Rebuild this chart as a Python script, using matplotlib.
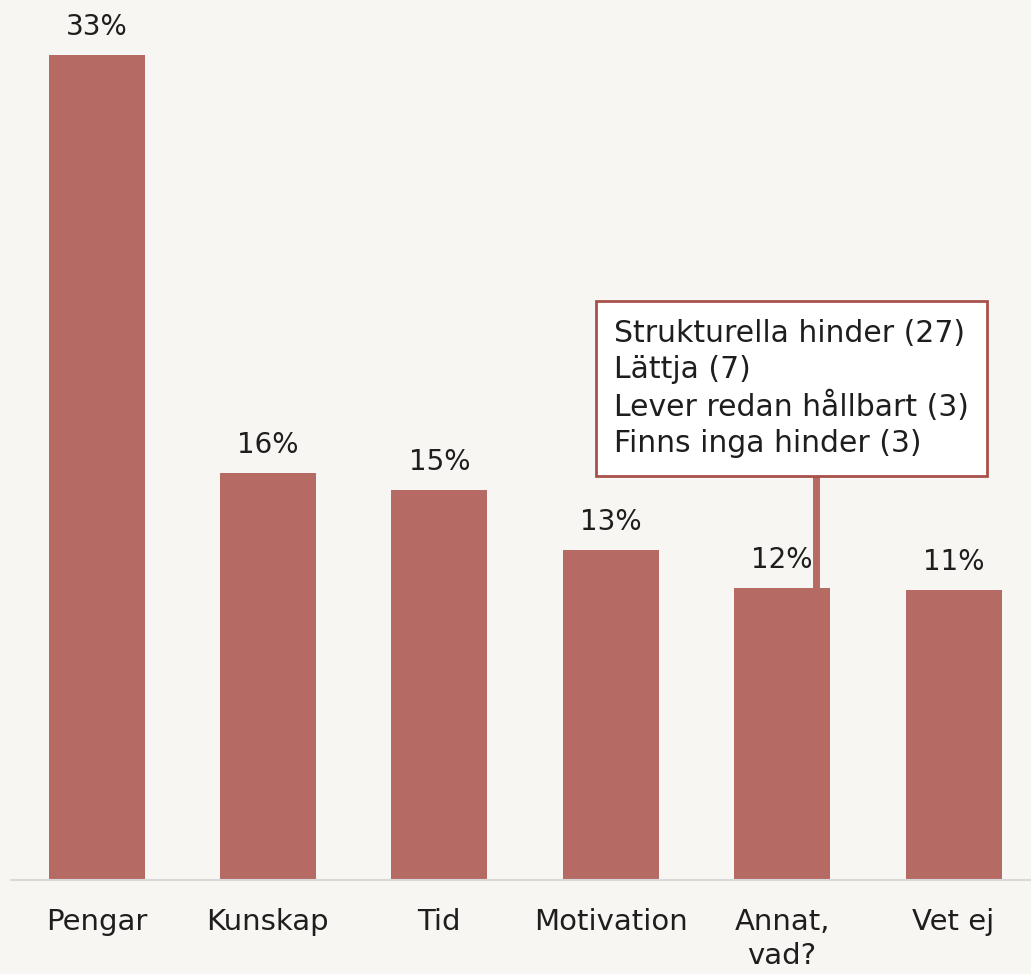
import numpy as np
import matplotlib.pyplot as plt

categories = ['Pengar', 'Kunskap', 'Tid', 'Motivation', 'Annat,\nvad?', 'Vet ej']
values = [33.0, 16.3, 15.6, 13.2, 11.7, 11.6]
labels = ['33%', '16%', '15%', '13%', '12%', '11%']
other_lines = ['Strukturella hinder (27)', 'Lättja (7)',
               'Lever redan hållbart (3)', 'Finns inga hinder (3)']

bar_color = '#b56b64'
bg = '#f8f6f2'
txt = '#1e1e1e'

plt.rcParams['font.family'] = ['DejaVu Sans']

fig = plt.figure(figsize=(10.31, 9.74), dpi=100, facecolor=bg)
ax = fig.add_axes([0.0105, 94/974, 0.9975, 880/974])
ax.set_facecolor(bg)

x = np.arange(len(categories))
ax.bar(x, values, width=0.56, color=bar_color, zorder=2)
for xi, v, lab in zip(x, values, labels):
    ax.text(xi, v + 0.55, lab, ha='center', va='bottom', fontsize=20, color=txt)

ax.set_xlim(-0.5, 5.5)
ax.set_ylim(0, 35.2)
ax.set_yticks([])
ax.set_xticks(x)
ax.set_xticklabels(categories, fontsize=21, color=txt, linespacing=1.3)
ax.tick_params(axis='x', length=0, pad=20)
for s in ['top', 'right', 'left']:
    ax.spines[s].set_visible(False)
ax.spines['bottom'].set_color('#d9d9d9')
ax.spines['bottom'].set_linewidth(1.5)

# connector from the "Annat, vad?" bar up to the box
ax.vlines(4.2, values[4], 19.66, color=bar_color, lw=5, zorder=2)
ax.text(3.02, 19.66, '\n'.join(other_lines), ha='left', va='center',
        fontsize=21.5, color=txt, linespacing=1.3,
        bbox=dict(boxstyle='square,pad=0.6', fc='white', ec='#a8504a', lw=2),
        zorder=3)

fig.savefig('out.png', dpi=100, facecolor=bg)
